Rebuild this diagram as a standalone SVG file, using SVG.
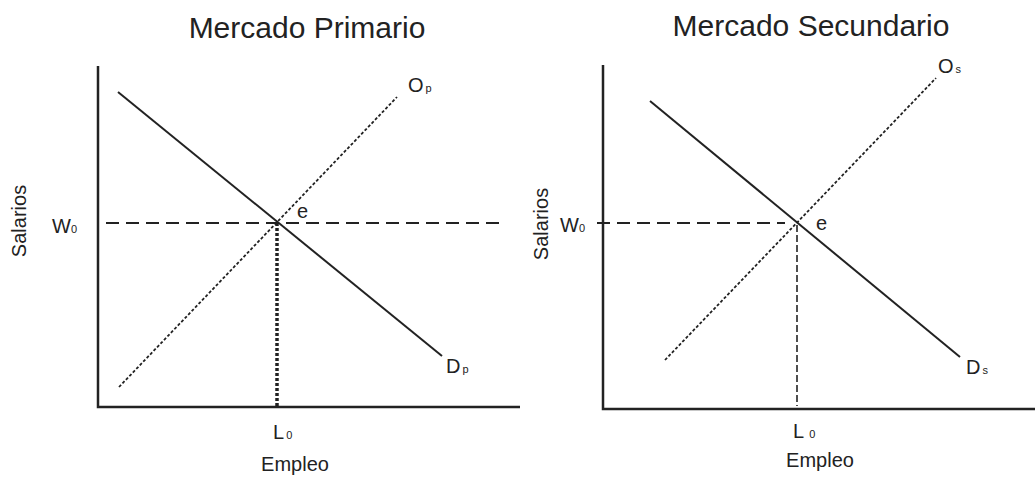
<svg xmlns="http://www.w3.org/2000/svg" width="1035" height="477" viewBox="0 0 1035 477">
<style>
text{font-family:"Liberation Sans",Arial,sans-serif;fill:#222}
.title{font-size:30px;text-anchor:middle}
.lab{font-size:20px}
.sub{font-size:11px}
.axis{stroke:#222;stroke-width:2.5;fill:none}
.dem{stroke:#222;stroke-width:2;fill:none}
.sup{stroke:#222;stroke-width:1.8;stroke-dasharray:3 2;fill:none}
.wdash{stroke:#222;stroke-width:2;stroke-dasharray:13 7;fill:none}
.ldash1{stroke:#222;stroke-width:3.5;stroke-dasharray:3 2;fill:none}
.ldash2{stroke:#222;stroke-width:1.6;stroke-dasharray:7 3;fill:none}
</style>
<rect width="1035" height="477" fill="#fff"/>
<g id="panel-primario">
  <text class="title" x="307" y="38">Mercado Primario</text>
  <g id="axes-p">
    <path class="axis" d="M98,66 V407 H520"/>
  </g>
  <g id="connectors-p">
    <line class="wdash" x1="106" y1="223" x2="503" y2="223"/>
    <line class="ldash1" x1="277" y1="223" x2="277" y2="406"/>
    <line class="dem" x1="118" y1="92" x2="442" y2="356"/>
    <line class="sup" x1="119" y1="387" x2="397" y2="97"/>
  </g>
  <g id="labels-p">
    <text class="lab" transform="translate(26,221) rotate(-90)" text-anchor="middle">Salarios</text>
    <text class="lab" x="52" y="233">W<tspan class="sub">0</tspan></text>
    <text class="lab" x="273" y="439">L<tspan class="sub" dx="2">0</tspan></text>
    <text class="lab" x="295" y="471" text-anchor="middle">Empleo</text>
    <text class="lab" x="297" y="218">e</text>
    <text class="lab" x="408" y="92">O<tspan class="sub" dx="2">p</tspan></text>
    <text class="lab" x="446" y="373">D<tspan class="sub" dx="2">p</tspan></text>
  </g>
</g>
<g id="panel-secundario">
  <text class="title" x="811" y="36">Mercado Secundario</text>
  <g id="axes-s">
    <path class="axis" d="M603,65 V409 H1035"/>
  </g>
  <g id="connectors-s">
    <line class="wdash" x1="597" y1="223" x2="785" y2="223"/>
    <line class="ldash2" x1="797" y1="225" x2="797" y2="406"/>
    <line class="dem" x1="650" y1="101" x2="960" y2="357"/>
    <line class="sup" x1="665" y1="360" x2="936" y2="78"/>
  </g>
  <g id="labels-s">
    <text class="lab" transform="translate(548,224) rotate(-90)" text-anchor="middle">Salarios</text>
    <text class="lab" x="560" y="232">W<tspan class="sub">0</tspan></text>
    <text class="lab" x="793" y="438">L<tspan class="sub" dx="5">0</tspan></text>
    <text class="lab" x="820" y="467" text-anchor="middle">Empleo</text>
    <text class="lab" x="816" y="230">e</text>
    <text class="lab" x="938" y="73">O<tspan class="sub" dx="2">s</tspan></text>
    <text class="lab" x="966" y="374">D<tspan class="sub" dx="2">s</tspan></text>
  </g>
</g>
</svg>
